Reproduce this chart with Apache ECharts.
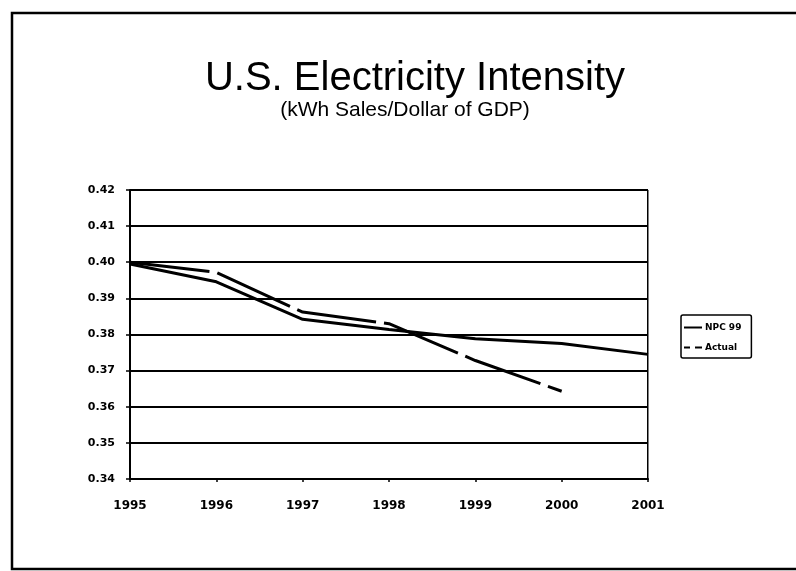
<!DOCTYPE html>
<html>
<head>
<meta charset="utf-8">
<script src="https://cdn.jsdelivr.net/npm/echarts@6/dist/echarts.min.js"></script>
<style>
html,body{margin:0;padding:0;background:#fff;}
#chart{width:796px;height:571px;}
</style>
</head>
<body>
<div id="chart"></div>
<script>
var years = ['1995','1996','1997','1998','1999','2000','2001'];
var npc99 = [0.3995, 0.3946, 0.3842, 0.3814, 0.3788, 0.3775, 0.3745];
var actual = [0.4000, 0.3972, 0.3862, 0.3830, 0.3728, 0.3643, null];
var yTicks = ['0.34','0.35','0.36','0.37','0.38','0.39','0.40','0.41','0.42'];
var titleText = 'U.S. Electricity Intensity';
var subtitleText = '(kWh Sales/Dollar of GDP)';
var seriesNames = ['NPC 99', 'Actual'];

var chart = echarts.init(document.getElementById('chart'));
chart.setOption({
  backgroundColor: '#ffffff',
  animation: false,
  title: [
    {
      text: titleText,
      left: 415,
      top: 59,
      textAlign: 'center',
      padding: 0,
      textStyle: { fontFamily: 'Liberation Sans', fontSize: 40, fontWeight: 'normal', color: '#000' }
    },
    {
      text: subtitleText,
      left: 405,
      top: 100,
      textAlign: 'center',
      padding: 0,
      textStyle: { fontFamily: 'Liberation Sans', fontSize: 21, fontWeight: 'normal', color: '#000' }
    }
  ],
  legend: {
    orient: 'vertical',
    left: 681,
    top: 315,
    padding: [8, 10, 6, 3],
    itemGap: 11,
    itemWidth: 18,
    itemHeight: 10,
    borderColor: '#000',
    borderWidth: 1.5,
    borderRadius: 2,
    textStyle: { fontFamily: 'DejaVu Sans', fontSize: 9, fontWeight: 'bold', color: '#000', padding: [0,0,0,-2] },
    data: [
      { name: seriesNames[0], icon: 'path://M0,4 L18,4 L18,6 L0,6 Z' },
      { name: seriesNames[1], icon: 'path://M0,4 L6,4 L6,6 L0,6 Z M11,4 L18,4 L18,6 L11,6 Z' }
    ]
  },
  grid: { left: 130, right: 148, top: 190, bottom: 92, containLabel: false },
  xAxis: {
    type: 'category',
    data: years,
    boundaryGap: false,
    axisLine: { lineStyle: { color: '#000', width: 2 } },
    axisTick: { show: true, inside: false, length: 3, lineStyle: { color: '#000', width: 1.5 } },
    axisLabel: { margin: 21, fontFamily: 'DejaVu Sans', fontSize: 12, fontWeight: 'bold', color: '#000' }
  },
  yAxis: {
    type: 'value',
    min: 0.34,
    max: 0.42,
    interval: 0.01,
    axisLine: { show: true, lineStyle: { color: '#000', width: 2 } },
    axisTick: { show: true, length: 4, lineStyle: { color: '#000', width: 1.5 } },
    axisLabel: {
      margin: 15,
      fontFamily: 'DejaVu Sans', fontSize: 11, fontWeight: 'bold', color: '#000',
      formatter: function (v) { return yTicks[Math.round((v - 0.34) * 100)]; }
    },
    splitLine: { show: true, lineStyle: { color: '#000', width: 2 } }
  },
  graphic: [
    { type: 'polyline', shape: { points: [[796, 13], [12, 13], [12, 569], [796, 569]] },
      style: { stroke: '#000', lineWidth: 2.5, fill: null }, silent: true },
    { type: 'rect', shape: { x: 647, y: 190, width: 1.5, height: 289 },
      style: { fill: '#000' }, silent: true }
  ],
  series: [
    {
      name: seriesNames[0], type: 'line', data: npc99, showSymbol: false, symbol: 'none',
      lineStyle: { color: '#000', width: 3 }, itemStyle: { color: '#000' }, z: 3
    },
    {
      name: seriesNames[1], type: 'line', data: actual, showSymbol: false, symbol: 'none',
      lineStyle: { color: '#000', width: 3, type: [80, 8] }, itemStyle: { color: '#000' }, z: 4
    }
  ]
});
</script>
</body>
</html>
